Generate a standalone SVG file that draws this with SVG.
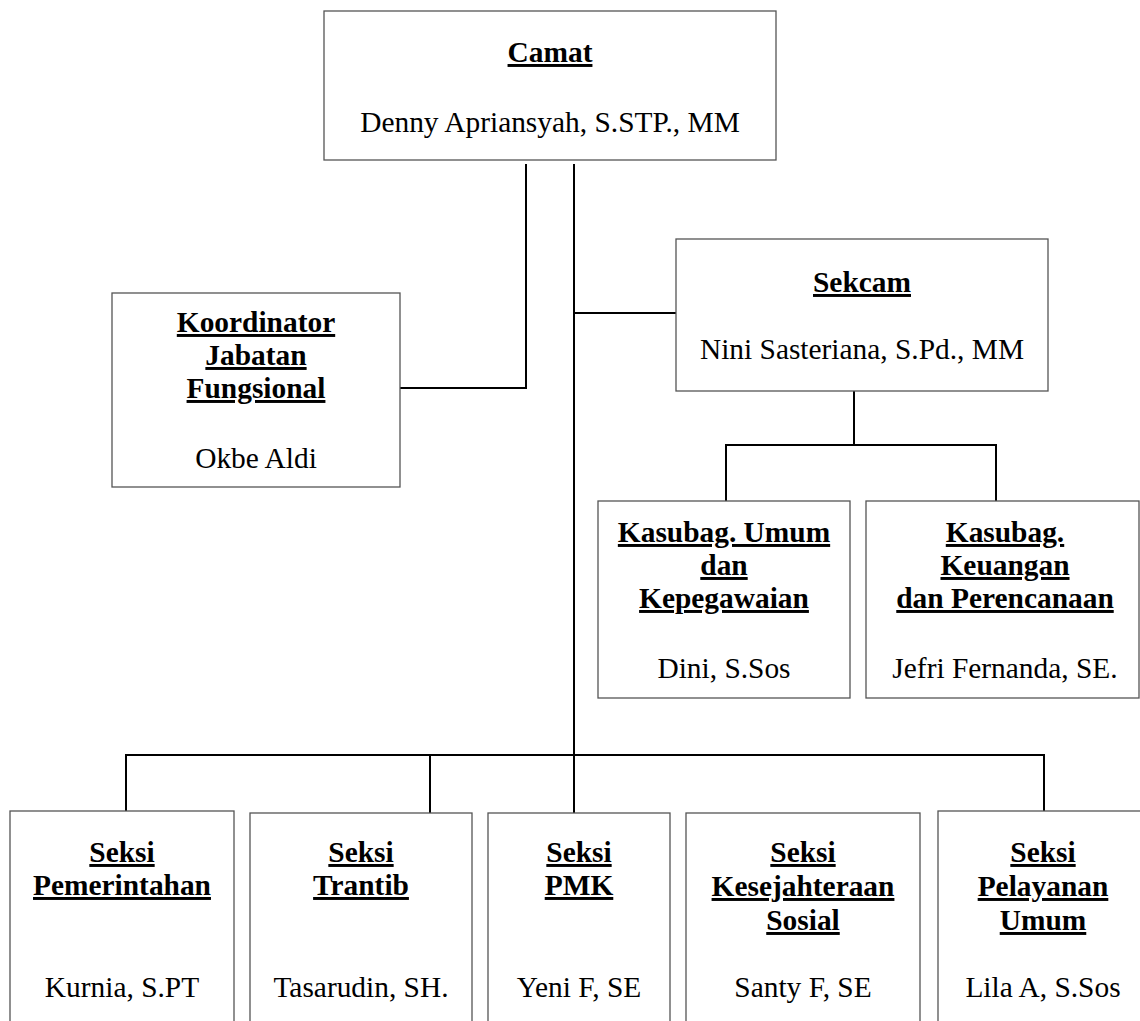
<svg xmlns="http://www.w3.org/2000/svg" width="1140" height="1021" viewBox="0 0 1140 1021">
<style>
.box{fill:#fff;stroke:#555;stroke-width:1.3}
.conn{fill:none;stroke:#000;stroke-width:2}
text{font-family:"Liberation Serif","Times New Roman",serif;font-size:29.4px;fill:#000;text-anchor:middle}
.t{font-weight:bold;text-decoration:underline}
</style>
<rect width="1140" height="1021" fill="#fff"/>
<g id="connectors">
<path class="conn" d="M526,164 V388 H400"/>
<path class="conn" d="M574,164 V813"/>
<path class="conn" d="M574,313 H676"/>
<path class="conn" d="M854,391 V445"/>
<path class="conn" d="M726,501 V445 H996 V501"/>
<path class="conn" d="M126,811 V755 H1044 V811"/>
<path class="conn" d="M430,755 V813"/>
</g>
<g id="camat">
<rect class="box" x="324" y="11" width="452" height="149"/>
<text class="t" x="550" y="62">Camat</text>
<text x="550" y="132">Denny Apriansyah, S.STP., MM</text>
</g>
<g id="koordinator">
<rect class="box" x="112" y="293" width="288" height="194"/>
<text class="t" x="256" y="332">Koordinator</text>
<text class="t" x="256" y="365">Jabatan</text>
<text class="t" x="256" y="398">Fungsional</text>
<text x="256" y="468">Okbe Aldi</text>
</g>
<g id="sekcam">
<rect class="box" x="676" y="239" width="372" height="152"/>
<text class="t" x="862" y="292">Sekcam</text>
<text x="862" y="359">Nini Sasteriana, S.Pd., MM</text>
</g>
<g id="kasubag-umum">
<rect class="box" x="598" y="501" width="252" height="197"/>
<text class="t" x="724" y="542">Kasubag. Umum</text>
<text class="t" x="724" y="575">dan</text>
<text class="t" x="724" y="608">Kepegawaian</text>
<text x="724" y="678">Dini, S.Sos</text>
</g>
<g id="kasubag-keuangan">
<rect class="box" x="866" y="501" width="273" height="197"/>
<text class="t" x="1005" y="542">Kasubag.</text>
<text class="t" x="1005" y="575">Keuangan</text>
<text class="t" x="1005" y="608">dan Perencanaan</text>
<text x="1005" y="678">Jefri Fernanda, SE.</text>
</g>
<g id="seksi-pemerintahan">
<rect class="box" x="10" y="811" width="224" height="230"/>
<text class="t" x="122" y="862">Seksi</text>
<text class="t" x="122" y="895">Pemerintahan</text>
<text x="122" y="997">Kurnia, S.PT</text>
</g>
<g id="seksi-trantib">
<rect class="box" x="250" y="813" width="222" height="230"/>
<text class="t" x="361" y="862">Seksi</text>
<text class="t" x="361" y="895">Trantib</text>
<text x="361" y="997">Tasarudin, SH.</text>
</g>
<g id="seksi-pmk">
<rect class="box" x="488" y="813" width="182" height="230"/>
<text class="t" x="579" y="862">Seksi</text>
<text class="t" x="579" y="895">PMK</text>
<text x="579" y="997">Yeni F, SE</text>
</g>
<g id="seksi-kesejahteraan">
<rect class="box" x="686" y="813" width="234" height="230"/>
<text class="t" x="803" y="862">Seksi</text>
<text class="t" x="803" y="896">Kesejahteraan</text>
<text class="t" x="803" y="930">Sosial</text>
<text x="803" y="997">Santy F, SE</text>
</g>
<g id="seksi-pelayanan">
<rect class="box" x="938" y="811" width="210" height="230"/>
<text class="t" x="1043" y="862">Seksi</text>
<text class="t" x="1043" y="896">Pelayanan</text>
<text class="t" x="1043" y="930">Umum</text>
<text x="1043" y="997">Lila A, S.Sos</text>
</g>
</svg>
